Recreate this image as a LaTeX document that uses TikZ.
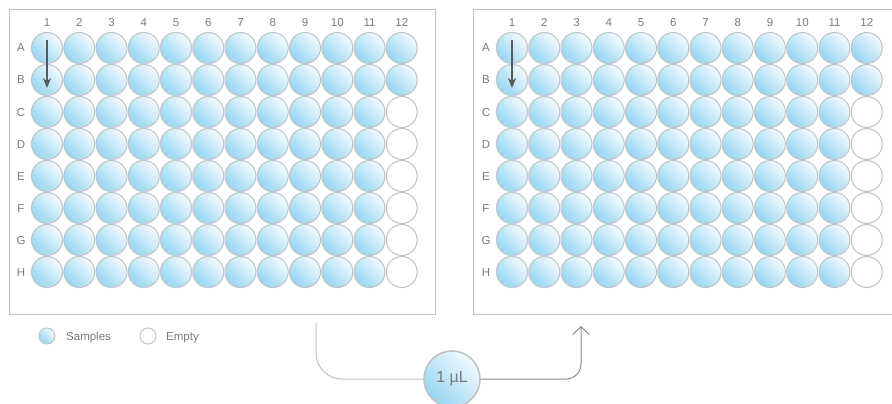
\documentclass[tikz,border=0pt]{standalone}
\usepackage{fontspec}
\setmainfont{Liberation Sans}
\usetikzlibrary{arrows.meta}
\definecolor{WellBlue}{HTML}{96D5F2}
\definecolor{WellLight}{HTML}{F2FAFE}
\definecolor{RimGray}{HTML}{C2C2C2}
\definecolor{TextGray}{HTML}{7A7A7A}

\begin{document}
\begin{tikzpicture}[x=1pt, y=-1pt,
        well/.style={circle, draw=RimGray, line width=1pt, minimum size=31pt, inner sep=0pt,
            top color=WellLight, bottom color=WellBlue, shading angle=-45},
        hole/.style={circle, draw=RimGray, line width=1pt, minimum size=31pt, inner sep=0pt, fill=white},
        lbl/.style={text=TextGray, font=\fontsize{11.5}{13}\selectfont, inner sep=0pt, anchor=base},
        plate/.style={draw=RimGray, line width=1pt},
        link/.style={line width=1pt}]
    \useasboundingbox (0,0) rectangle (892,404);

    % two plates
    \draw[plate] (9,10) rectangle (435,314);
    \draw[plate] (473,10) rectangle (896,314);

    \foreach \p/\xo in {L/47, R/512} {
        \foreach \c in {1,...,12}
            \node[lbl] (\p-col\c) at (\xo+32.25*\c-32.25, 27) {\c};
        \foreach \r [count=\i from 0] in {A,...,H} {
            \node[lbl] (\p-row\r) at (\xo-26, 52+32*\i) {\r};
            \foreach \c in {1,...,12} {
                \pgfmathtruncatemacro\isempty{and(\c==12,\i>1)}
                \ifnum\isempty=1
                    \node[hole] (\p-\r-\c) at (\xo+32.25*\c-32.25, 48+32*\i) {};
                \else
                    \node[well] (\p-\r-\c) at (\xo+32.25*\c-32.25, 48+32*\i) {};
                \fi
            }
        }
        \draw[line width=1.3pt, draw=black!65, -{Stealth[length=10pt, width=8pt]}]
            ([yshift=8pt]\p-A-1.center) -- ([yshift=-8pt]\p-B-1.center);
    }

    % legend
    \node[well, minimum size=16pt] (keyS) at (47,336) {};
    \node[lbl, anchor=base west] (keyStxt) at (66,340) {Samples};
    \node[hole, minimum size=16pt] (keyE) at (148,336) {};
    \node[lbl, anchor=base west] (keyEtxt) at (166,340) {Empty};

    % transfer
    \coordinate (out) at (316,323);
    \coordinate (in) at (581,326);
    \node[well, minimum size=56pt, line width=1.6pt, text=TextGray,
        font=\fontsize{16}{18}\selectfont] (drop) at (452,379) {1 µL};
    \draw[link, draw=RimGray, rounded corners=26pt] (out) |- (drop);
    \draw[link, draw=black!45, rounded corners=15pt, -{Straight Barb[length=8pt, width=17pt]}]
        (drop) -| (in);
\end{tikzpicture}
\end{document}
